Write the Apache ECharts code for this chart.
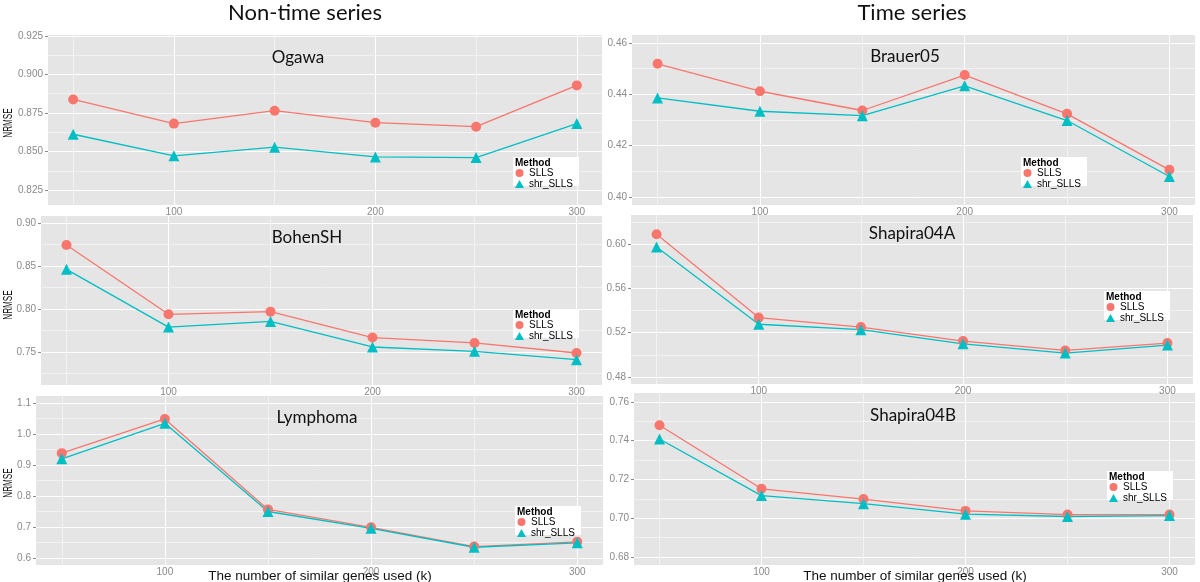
<!DOCTYPE html>
<html><head><meta charset="utf-8">
<script src="https://cdn.jsdelivr.net/npm/echarts@6/dist/echarts.min.js"></script>
<style>html,body{margin:0;padding:0;background:#fff}#c{width:1200px;height:582px}</style>
</head><body><div id="c"></div>
<script>
// ---------- DATA ----------
const kValues = [50, 100, 150, 200, 250, 300];
const xTicks = [100, 200, 300];
const methods = ['SLLS', 'shr_SLLS'];
const columnTitles = ['Non-time series', 'Time series'];
const panelTitles = ['Ogawa', 'Brauer05', 'BohenSH', 'Shapira04A', 'Lymphoma', 'Shapira04B'];
const yAxisTitle = 'NRMSE';
const xAxisTitle = 'The number of similar genes used (k)';
const legendTitle = 'Method';

const ogawaSLLS  = [0.8838, 0.8681, 0.8765, 0.8687, 0.8661, 0.8929];
const ogawaShr   = [0.8612, 0.8472, 0.8528, 0.8465, 0.8461, 0.8681];
const brauerSLLS = [0.4519, 0.4412, 0.4337, 0.4475, 0.4324, 0.4106];
const brauerShr  = [0.4386, 0.4334, 0.4317, 0.4433, 0.4298, 0.4080];
const bohenSLLS  = [0.8743, 0.7938, 0.7969, 0.7668, 0.7605, 0.7488];
const bohenShr   = [0.8461, 0.7789, 0.7855, 0.7558, 0.7508, 0.7410];
const shapASLLS  = [0.6088, 0.5336, 0.5251, 0.5124, 0.5040, 0.5106];
const shapAShr   = [0.5973, 0.5276, 0.5227, 0.5100, 0.5016, 0.5088];
const lymphSLLS  = [0.9383, 1.0487, 0.7567, 0.6989, 0.6368, 0.6520];
const lymphShr   = [0.9200, 1.0346, 0.7500, 0.6957, 0.6346, 0.6490];
const shapBSLLS  = [0.7480, 0.7152, 0.7099, 0.7038, 0.7019, 0.7019];
const shapBShr   = [0.7409, 0.7117, 0.7075, 0.7021, 0.7009, 0.7014];

const ogawaTicks  = [0.825, 0.850, 0.875, 0.900, 0.925];
const brauerTicks = [0.40, 0.42, 0.44, 0.46];
const bohenTicks  = [0.75, 0.80, 0.85, 0.90];
const shapATicks  = [0.48, 0.52, 0.56, 0.60];
const lymphTicks  = [0.6, 0.7, 0.8, 0.9, 1.0, 1.1];
const shapBTicks  = [0.68, 0.70, 0.72, 0.74, 0.76];

const panelSLLS = [ogawaSLLS, brauerSLLS, bohenSLLS, shapASLLS, lymphSLLS, shapBSLLS];
const panelShr  = [ogawaShr, brauerShr, bohenShr, shapAShr, lymphShr, shapBShr];
const panelTicks = [ogawaTicks, brauerTicks, bohenTicks, shapATicks, lymphTicks, shapBTicks];

// ---------- LAYOUT / STYLE ----------
const layout = [
  {g:{left:48, top:35, width:554, height:170}, y:[0.8153,0.9256], dec:3, t:[298,58], lg:[513,157]},
  {g:{left:632, top:35, width:563, height:170}, y:[0.3969,0.4631], dec:2, t:[905,57], lg:[1021,157]},
  {g:{left:41, top:216, width:561, height:169}, y:[0.7116,0.9081], dec:2, t:[307,238], lg:[513,309]},
  {g:{left:631, top:215, width:562, height:169}, y:[0.4737,0.6262], dec:2, t:[912,234], lg:[1104,291]},
  {g:{left:36, top:396, width:567, height:169}, y:[0.5773,1.1227], dec:1, t:[317,418], lg:[515,506]},
  {g:{left:634, top:393, width:561, height:172}, y:[0.6759,0.7646], dec:2, t:[913,416], lg:[1107,471]}
];
const XMIN = 37.5, XMAX = 312.5;
const C1 = '#F8766D', C2 = '#00BFC4';
const PANEL_BG = '#E5E5E5', MAJOR = '#FFFFFF', MINOR = '#F2F2F2';
const TICK_COLOR = '#8a8a8a';

function minors(ticks, lo, hi) {
  const step = ticks[1] - ticks[0];
  const out = [];
  for (let i = -1; i < ticks.length; i++) {
    const v = (i < 0 ? ticks[0] - step / 2 : ticks[i] + step / 2);
    if (v > lo && v < hi) out.push(+v.toFixed(6));
  }
  return out;
}

const grids = [], xAxes = [], yAxes = [], series = [], legends = [], graphics = [];
layout.forEach((p, i) => {
  grids.push(Object.assign({show:true, backgroundColor:PANEL_BG, borderWidth:0}, p.g));
  const ticks = panelTicks[i];
  xAxes.push({gridIndex:i, type:'value', min:XMIN, max:XMAX, position:'bottom',
    axisLine:{show:false}, axisTick:{show:false, customValues:xTicks},
    axisLabel:{customValues:xTicks, margin:2, color:TICK_COLOR, fontSize:10, fontFamily:'Liberation Sans'},
    splitLine:{show:true, lineStyle:{color:MAJOR, width:1}}});
  xAxes.push({gridIndex:i, type:'value', min:XMIN, max:XMAX, position:'top',
    axisLine:{show:false}, axisTick:{show:false, customValues:minors(xTicks, XMIN, XMAX)},
    axisLabel:{show:false}, splitLine:{show:true, lineStyle:{color:MINOR, width:1}}});
  yAxes.push({gridIndex:i, type:'value', min:p.y[0], max:p.y[1], position:'left',
    axisLine:{show:false}, axisTick:{show:true, length:3, customValues:ticks, lineStyle:{color:TICK_COLOR}},
    axisLabel:{customValues:ticks, margin:5, color:TICK_COLOR, fontSize:10, fontFamily:'Liberation Sans',
      formatter: (v) => Number(v).toFixed(p.dec)},
    splitLine:{show:true, lineStyle:{color:MAJOR, width:1}}});
  yAxes.push({gridIndex:i, type:'value', min:p.y[0], max:p.y[1], position:'right',
    axisLine:{show:false}, axisTick:{show:false, customValues:minors(ticks, p.y[0], p.y[1])},
    axisLabel:{show:false}, splitLine:{show:true, lineStyle:{color:MINOR, width:1}}});

  const xi = 2 * i, yi = 2 * i;
  const sets = [[panelSLLS[i], C1, 'circle', 10], [panelShr[i], C2, 'triangle', 11]];
  sets.forEach((s, m) => {
    series.push({type:'line', name:methods[m], xAxisIndex:xi, yAxisIndex:yi,
      data:kValues.map((k, j) => [k, s[0][j]]), symbol:'none',
      lineStyle:{color:s[1], width:1.3}, itemStyle:{color:s[1]}, z:2, silent:true});
  });
  sets.forEach((s, m) => {
    series.push({type:'scatter', name:methods[m], xAxisIndex:xi, yAxisIndex:yi,
      data:kValues.map((k, j) => [k, s[0][j]]), symbol:s[2], symbolSize:s[3],
      itemStyle:{color:s[1], opacity:1}, z:3, silent:true});
  });

  const [lx, ly] = p.lg;
  legends.push({left:lx + 2, top:ly + 11, orient:'vertical', itemGap:1, itemWidth:9, itemHeight:8,
    padding:0, selectedMode:false, z:10,
    textStyle:{fontSize:10, fontFamily:'Liberation Sans', color:'#000', lineHeight:8},
    data:[{name:methods[0], icon:'circle'}, {name:methods[1], icon:'triangle'}]});
  graphics.push({type:'rect', z:5, shape:{x:lx, y:ly, width:66, height:29}, style:{fill:'#fff'}});
  graphics.push({type:'text', z:11, x:lx + 2, y:ly + 1,
    style:{text:legendTitle, font:'bold 10px "Liberation Sans"', fill:'#000', verticalAlign:'top'}});
  graphics.push({type:'text', z:11, x:p.t[0], y:p.t[1],
    style:{text:panelTitles[i], font:'17px Lato', fill:'#111', align:'center', verticalAlign:'middle'}});
});

graphics.push({type:'text', z:11, x:305, y:13, style:{text:columnTitles[0], font:'22px Lato', fill:'#111', align:'center', verticalAlign:'middle'}});
graphics.push({type:'text', z:11, x:912, y:13, style:{text:columnTitles[1], font:'22px Lato', fill:'#111', align:'center', verticalAlign:'middle'}});
[123, 305, 483].forEach(cy => {
  graphics.push({type:'text', z:11, x:9, y:cy, rotation:Math.PI / 2, scaleX:0.65,
    style:{text:yAxisTitle, font:'12.5px "Liberation Sans"', fill:'#111', align:'center', verticalAlign:'middle'}});
});
[320, 915].forEach(cx => {
  graphics.push({type:'text', z:11, x:cx, y:576,
    style:{text:xAxisTitle, font:'13.5px "Liberation Sans"', fill:'#111', align:'center', verticalAlign:'middle'}});
});

const chart = echarts.init(document.getElementById('c'), null, {renderer:'canvas'});
chart.setOption({
  animation:false,
  backgroundColor:'#fff',
  grid:grids, xAxis:xAxes, yAxis:yAxes, series:series, legend:legends,
  graphic:{elements:graphics}
});
</script></body></html>
